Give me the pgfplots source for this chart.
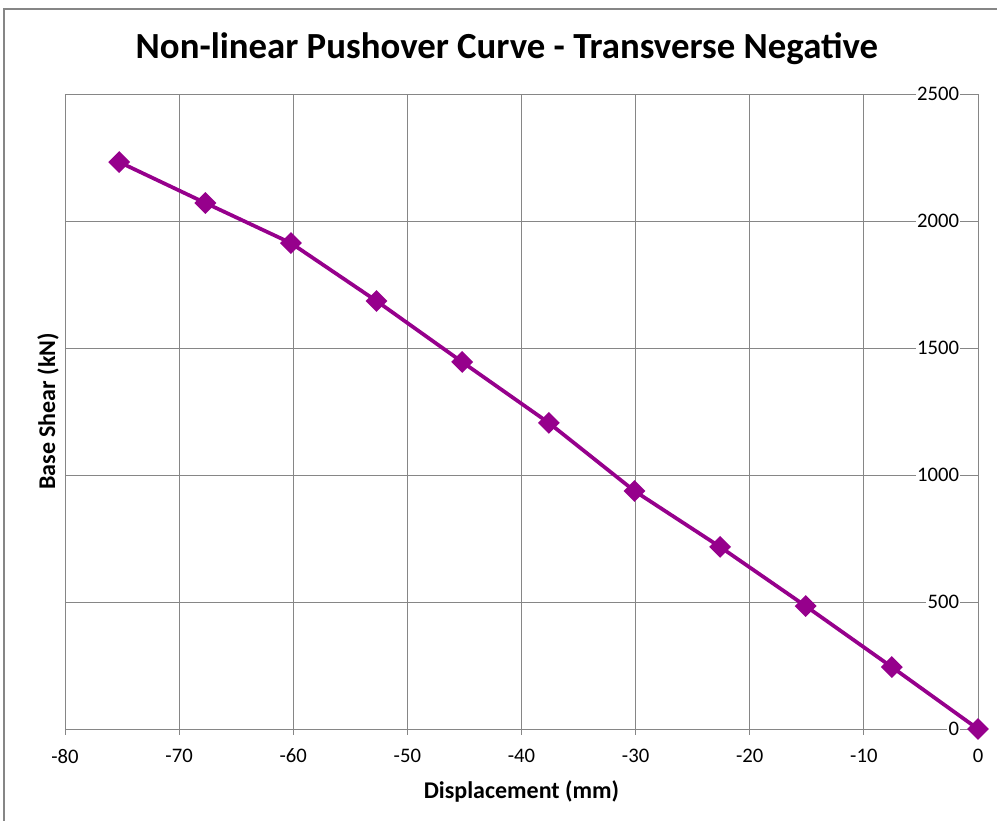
\documentclass[border=0pt]{standalone}
\usepackage{pgfplots}
\pgfplotsset{compat=1.18}
\usepackage{fontspec}
\setmainfont{Carlito}
\definecolor{curve}{RGB}{150,0,140}
\definecolor{gridgray}{RGB}{134,134,134}
\begin{document}
\begin{tikzpicture}
% page = 997 x 821 px, 1px = 0.75pt, origin at bottom-left
\path[use as bounding box] (0pt,0pt) rectangle (747.75pt,615.75pt);
\draw[gridgray, line width=0.9pt] (3pt,0pt) -- (3pt,609pt) -- (747.75pt,609pt);
\node[font=\bfseries\fontsize{27.6}{30}\selectfont] at (380.25pt,579.5pt) {Non-linear Pushover Curve - Transverse Negative};
\begin{axis}[
  at={(48.75pt,69pt)}, anchor=south west,
  scale only axis,
  width=684.75pt, height=476.25pt,
  xmin=-80, xmax=0, ymin=0, ymax=2500,
  xtick={-80,-70,...,0}, ytick={0,500,...,2500},
  grid=major,
  major grid style={gridgray, line width=0.6pt},
  axis line style={gridgray, line width=0.6pt},
  tick style={gridgray, line width=0.6pt},
  xtick align=outside, ytick style={draw=none},
  major tick length=4.5pt,
  xtick pos=bottom,
  yticklabel pos=right,
  yticklabel style={anchor=east, fill=white, inner sep=1pt, xshift=-13pt},
  ticklabel style={font=\fontsize{15.5}{17}\selectfont},
  xticklabel style={yshift=-7pt},
  /pgf/number format/assume math mode=true,
  /pgf/number format/1000 sep={},
  xlabel={\textbf{Displacement (mm)}},
  ylabel={\textbf{Base Shear (kN)}},
  label style={font=\fontsize{18}{20}\selectfont},
  ylabel style={at={(axis description cs:-0.0186,0.5)}, anchor=center},
  xlabel style={yshift=-6pt},
  clip=false,
]
\addplot[curve, line width=2.8pt, mark=square*, mark size=4.4pt, mark options={solid, fill=curve, rotate=45}] coordinates {
  (-75.25, 2232)
  (-67.7, 2071)
  (-60.2, 1913)
  (-52.7, 1685)
  (-45.2, 1445)
  (-37.6, 1205)
  (-30.1, 937)
  (-22.6, 717)
  (-15.1, 484)
  (-7.55, 244)
  (0, 0)
};
\end{axis}
\end{tikzpicture}
\end{document}
